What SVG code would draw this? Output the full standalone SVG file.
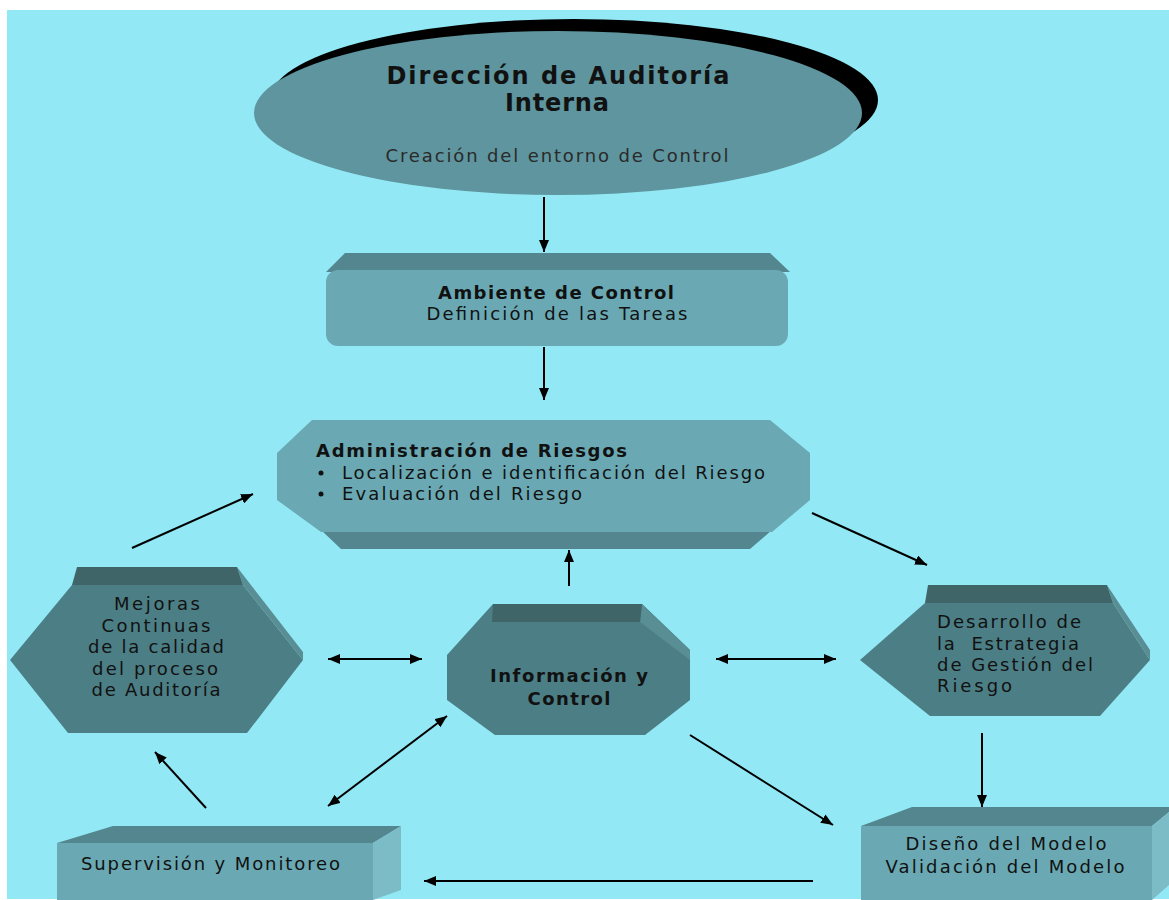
<svg xmlns="http://www.w3.org/2000/svg" width="1169" height="900" viewBox="0 0 1169 900">
<defs>
<style>
text{font-family:"DejaVu Sans","Liberation Sans",Arial,sans-serif;fill:#111;font-size:18px}
.b{font-weight:bold}
.c{text-anchor:middle}
.big{font-size:24px}
.top{fill:#53868E}
.front{fill:#6AA9B3}
.side{fill:#7CBCC6}
.dtop{fill:#3F6569}
.dfront{fill:#4C7E85}
.dside{fill:#5A8E95}
.con line{stroke:#000;stroke-width:2}
</style>
<marker id="ah" viewBox="0 0 12 10" refX="12" refY="5" markerWidth="12" markerHeight="10" orient="auto-start-reverse" markerUnits="userSpaceOnUse"><path d="M0,0 L12,5 L0,10 z" fill="#000"/></marker>
</defs>
<rect x="0" y="0" width="1169" height="900" fill="#fff"/>
<rect x="7" y="10" width="1162" height="889" fill="#92E9F5"/>

<g id="direccion">
<ellipse cx="574" cy="100" rx="304" ry="81" fill="#000"/>
<ellipse cx="558" cy="113" rx="304" ry="82" fill="#5E959E"/>
<text class="b c big" x="558" y="84" textLength="343" lengthAdjust="spacing">Dirección de Auditoría</text>
<text class="b c big" x="557" y="111" textLength="104" lengthAdjust="spacing">Interna</text>
<text class="c" x="557" y="162" style="fill:#2a2a2a" textLength="343" lengthAdjust="spacing">Creación del entorno de Control</text>
</g>

<g id="ambiente">
<path class="top" d="M345,253 L770,253 L790,272 L326,272 Z"/>
<rect class="front" x="326" y="270" width="462" height="76" rx="12"/>
<text class="b c" x="556" y="299" textLength="236" lengthAdjust="spacing">Ambiente de Control</text>
<text class="c" x="557" y="320" textLength="261" lengthAdjust="spacing">Definición de las Tareas</text>
</g>

<g id="administracion">
<path class="top" d="M321,530 L772,530 L750,549 L341,549 Z"/>
<path class="front" d="M312,420 L770,420 L810,453 L810,500 L772,532 L321,532 L277,500 L277,453 Z"/>
<text class="b" x="316" y="457" textLength="311" lengthAdjust="spacing">Administración de Riesgos</text>
<circle cx="321" cy="473" r="2.5" fill="#111"/>
<circle cx="321" cy="494" r="2.5" fill="#111"/>
<text x="342" y="479" textLength="423" lengthAdjust="spacing">Localización e identificación del Riesgo</text>
<text x="342" y="500" textLength="240" lengthAdjust="spacing">Evaluación del Riesgo</text>
</g>

<g id="mejoras">
<path class="dfront" d="M72,585 L243,585 L303,660 L247,733 L68,733 L10,660 Z"/>
<path class="dside" d="M237,567 L303,652 L303,660 L243,585 Z"/>
<path class="dtop" d="M77,567 L237,567 L243,585 L72,585 Z"/>
<text class="c" x="157" y="610" textLength="86" lengthAdjust="spacing">Mejoras</text>
<text class="c" x="156" y="632" textLength="109" lengthAdjust="spacing">Continuas</text>
<text class="c" x="156" y="653" textLength="136" lengthAdjust="spacing">de la calidad</text>
<text class="c" x="155" y="675" textLength="126" lengthAdjust="spacing">del proceso</text>
<text class="c" x="156" y="696" textLength="129" lengthAdjust="spacing">de Auditoría</text>
</g>

<g id="informacion">
<path class="dfront" d="M493,604 L642,604 L690,650 L690,700 L645,735 L495,735 L447,700 L447,655 Z"/>
<path class="dside" d="M642,604 L690,650 L690,660 L640,622 Z"/>
<path class="dtop" d="M493,604 L642,604 L640,622 L492,622 Z"/>
<text class="b c" x="569" y="682" textLength="158" lengthAdjust="spacing">Información y</text>
<text class="b c" x="569" y="705" textLength="83" lengthAdjust="spacing">Control</text>
</g>

<g id="desarrollo">
<path class="dfront" d="M925,603 L1113,603 L1150,660 L1100,716 L930,716 L860,660 Z"/>
<path class="dside" d="M1107,585 L1150,650 L1150,660 L1113,603 Z"/>
<path class="dtop" d="M928,585 L1107,585 L1113,603 L925,603 Z"/>
<text x="937" y="628" textLength="144" lengthAdjust="spacing">Desarrollo de</text>
<text x="937" y="650" xml:space="preserve" textLength="142" lengthAdjust="spacing">la  Estrategia</text>
<text x="937" y="671" textLength="156" lengthAdjust="spacing">de Gestión del</text>
<text x="937" y="692" textLength="75" lengthAdjust="spacing">Riesgo</text>
</g>

<g id="supervision">
<path class="top" d="M113,826 L401,826 L373,843 L57,843 Z"/>
<path class="side" d="M373,843 L401,826 L401,890 L373,900 Z"/>
<rect class="front" x="57" y="843" width="316" height="57"/>
<text x="81" y="870" textLength="259" lengthAdjust="spacing">Supervisión y Monitoreo</text>
</g>

<g id="diseno">
<path class="top" d="M912,807 L1169,807 L1169,812 L1152,826 L861,826 Z"/>
<path class="side" d="M1152,826 L1169,812 L1169,885 L1152,900 Z"/>
<rect class="front" x="861" y="826" width="291" height="74"/>
<text class="c" x="1006" y="850" textLength="201" lengthAdjust="spacing">Diseño del Modelo</text>
<text class="c" x="1005" y="873" textLength="239" lengthAdjust="spacing">Validación del Modelo</text>
</g>

<g id="connectors" class="con">
<line x1="544" y1="197" x2="544" y2="252" marker-end="url(#ah)"/>
<line x1="544" y1="347" x2="544" y2="400" marker-end="url(#ah)"/>
<line x1="132" y1="548" x2="253" y2="494" marker-end="url(#ah)"/>
<line x1="812" y1="513" x2="927" y2="565" marker-end="url(#ah)"/>
<line x1="569" y1="586" x2="569" y2="550" marker-end="url(#ah)"/>
<line x1="328" y1="659" x2="422" y2="659" marker-start="url(#ah)" marker-end="url(#ah)"/>
<line x1="716" y1="659" x2="836" y2="659" marker-start="url(#ah)" marker-end="url(#ah)"/>
<line x1="328" y1="806" x2="447" y2="716" marker-start="url(#ah)" marker-end="url(#ah)"/>
<line x1="206" y1="808" x2="155" y2="752" marker-end="url(#ah)"/>
<line x1="690" y1="735" x2="833" y2="825" marker-end="url(#ah)"/>
<line x1="982" y1="733" x2="982" y2="807" marker-end="url(#ah)"/>
<line x1="813" y1="881" x2="424" y2="881" marker-end="url(#ah)"/>
</g>
</svg>
